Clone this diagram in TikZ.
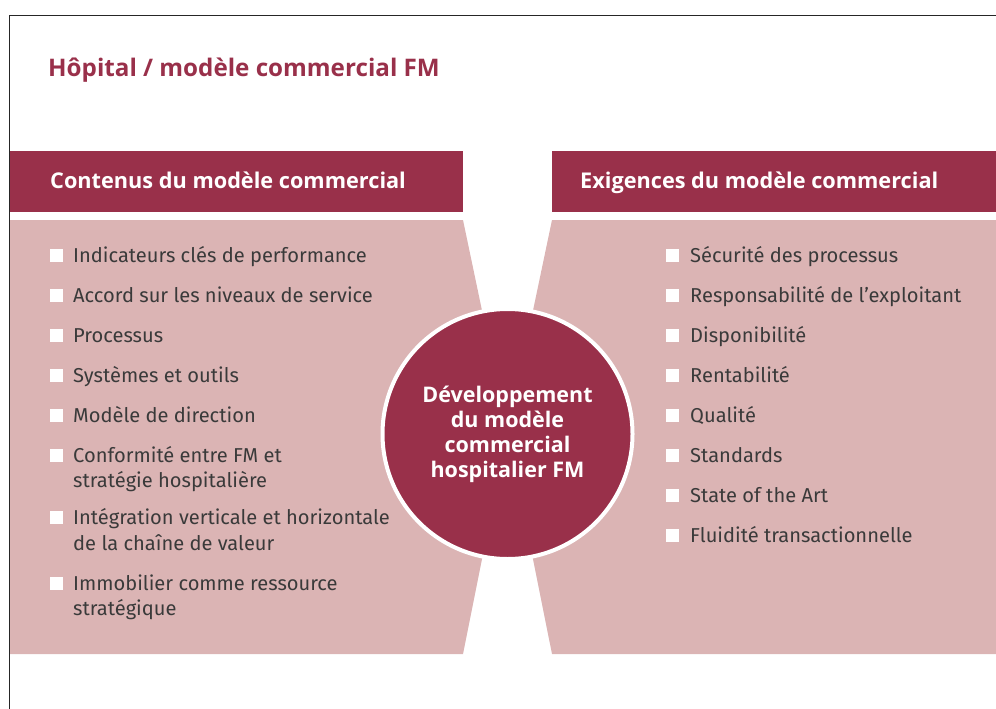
\documentclass[tikz,border=0pt]{standalone}
\usepackage{fontspec}
\setmainfont{Fira Sans}
\newfontfamily\boldfam{Open Sans}
\definecolor{wine}{HTML}{99304A}
\definecolor{rose}{HTML}{DBB4B4}
\definecolor{ink}{HTML}{3A3A3A}
\tikzset{
  sq/.style={fill=white, inner sep=0pt, minimum size=12.5pt, anchor=south west},
  itemtxt/.style={anchor=base west, inner sep=0pt, text=ink, font=\fontsize{20.1}{25}\selectfont},
  headtxt/.style={anchor=base west, inner sep=0pt, text=white, font=\boldfam\fontsize{21.7}{25}\selectfont\bfseries},
}
\begin{document}
\begin{tikzpicture}[x=1pt,y=-1pt]
\useasboundingbox (0,0) rectangle (996,709);
\draw[line width=1.3pt, black!85] (9.5,709) -- (9.5,15.5) -- (996,15.5);
\node[anchor=base west, inner sep=0pt, text=wine, font=\boldfam\fontsize{24.2}{28}\selectfont\bfseries] (title) at (48,77) {Hôpital / modèle commercial FM};
% panels
\fill[rose] (10,220) -- (463,220) -- (507.5,432) -- (463,654) -- (10,654) -- cycle;
\fill[rose] (996,220) -- (552,220) -- (507.5,432) -- (552,654) -- (996,654) -- cycle;
\fill[wine] (10,151) rectangle (463,212);
\fill[wine] (552,151) rectangle (996,212);
\node[headtxt] (hl) at (50,188) {Contenus du modèle commercial};
\node[headtxt] (hr) at (580,188) {Exigences du modèle commercial};
% centre
\node[circle, fill=wine, draw=white, line width=4pt, minimum size=250pt, inner sep=0pt,
      text=white, align=center, font=\boldfam\fontsize{21.5}{25}\selectfont\bfseries] (c) at (507.5,434)
  {Développement\\du modèle\\commercial\\hospitalier FM};
% left items
\node[sq] (l1) at (50,262) {}; \node[itemtxt] (lt1) at (73,262) {Indicateurs clés de performance};
\node[sq] (l2) at (50,302) {}; \node[itemtxt] (lt2) at (73,302) {Accord sur les niveaux de service};
\node[sq] (l3) at (50,342) {}; \node[itemtxt] (lt3) at (73,342) {Processus};
\node[sq] (l4) at (50,382) {}; \node[itemtxt] (lt4) at (73,382) {Systèmes et outils};
\node[sq] (l5) at (50,422) {}; \node[itemtxt] (lt5) at (73,422) {Modèle de direction};
\node[sq] (l6) at (50,462) {}; \node[itemtxt] (lt6) at (73,462) {Conformité entre FM et};
\node[itemtxt] (lt6b) at (73,487) {stratégie hospitalière};
\node[sq] (l7) at (50,524) {}; \node[itemtxt] (lt7) at (73,524) {Intégration verticale et horizontale};
\node[itemtxt] (lt7b) at (73,550) {de la chaîne de valeur};
\node[sq] (l8) at (50,590) {}; \node[itemtxt] (lt8) at (73,590) {Immobilier comme ressource};
\node[itemtxt] (lt8b) at (73,615) {stratégique};
% right items
\node[sq] (r1) at (666,262) {}; \node[itemtxt] (rt1) at (690,262) {Sécurité des processus};
\node[sq] (r2) at (666,302) {}; \node[itemtxt] (rt2) at (690,302) {Responsabilité de l’exploitant};
\node[sq] (r3) at (666,342) {}; \node[itemtxt] (rt3) at (690,342) {Disponibilité};
\node[sq] (r4) at (666,382) {}; \node[itemtxt] (rt4) at (690,382) {Rentabilité};
\node[sq] (r5) at (666,422) {}; \node[itemtxt] (rt5) at (690,422) {Qualité};
\node[sq] (r6) at (666,462) {}; \node[itemtxt] (rt6) at (690,462) {Standards};
\node[sq] (r7) at (666,502) {}; \node[itemtxt] (rt7) at (690,502) {State of the Art};
\node[sq] (r8) at (666,542) {}; \node[itemtxt] (rt8) at (690,542) {Fluidité transactionnelle};
\end{tikzpicture}
\end{document}
